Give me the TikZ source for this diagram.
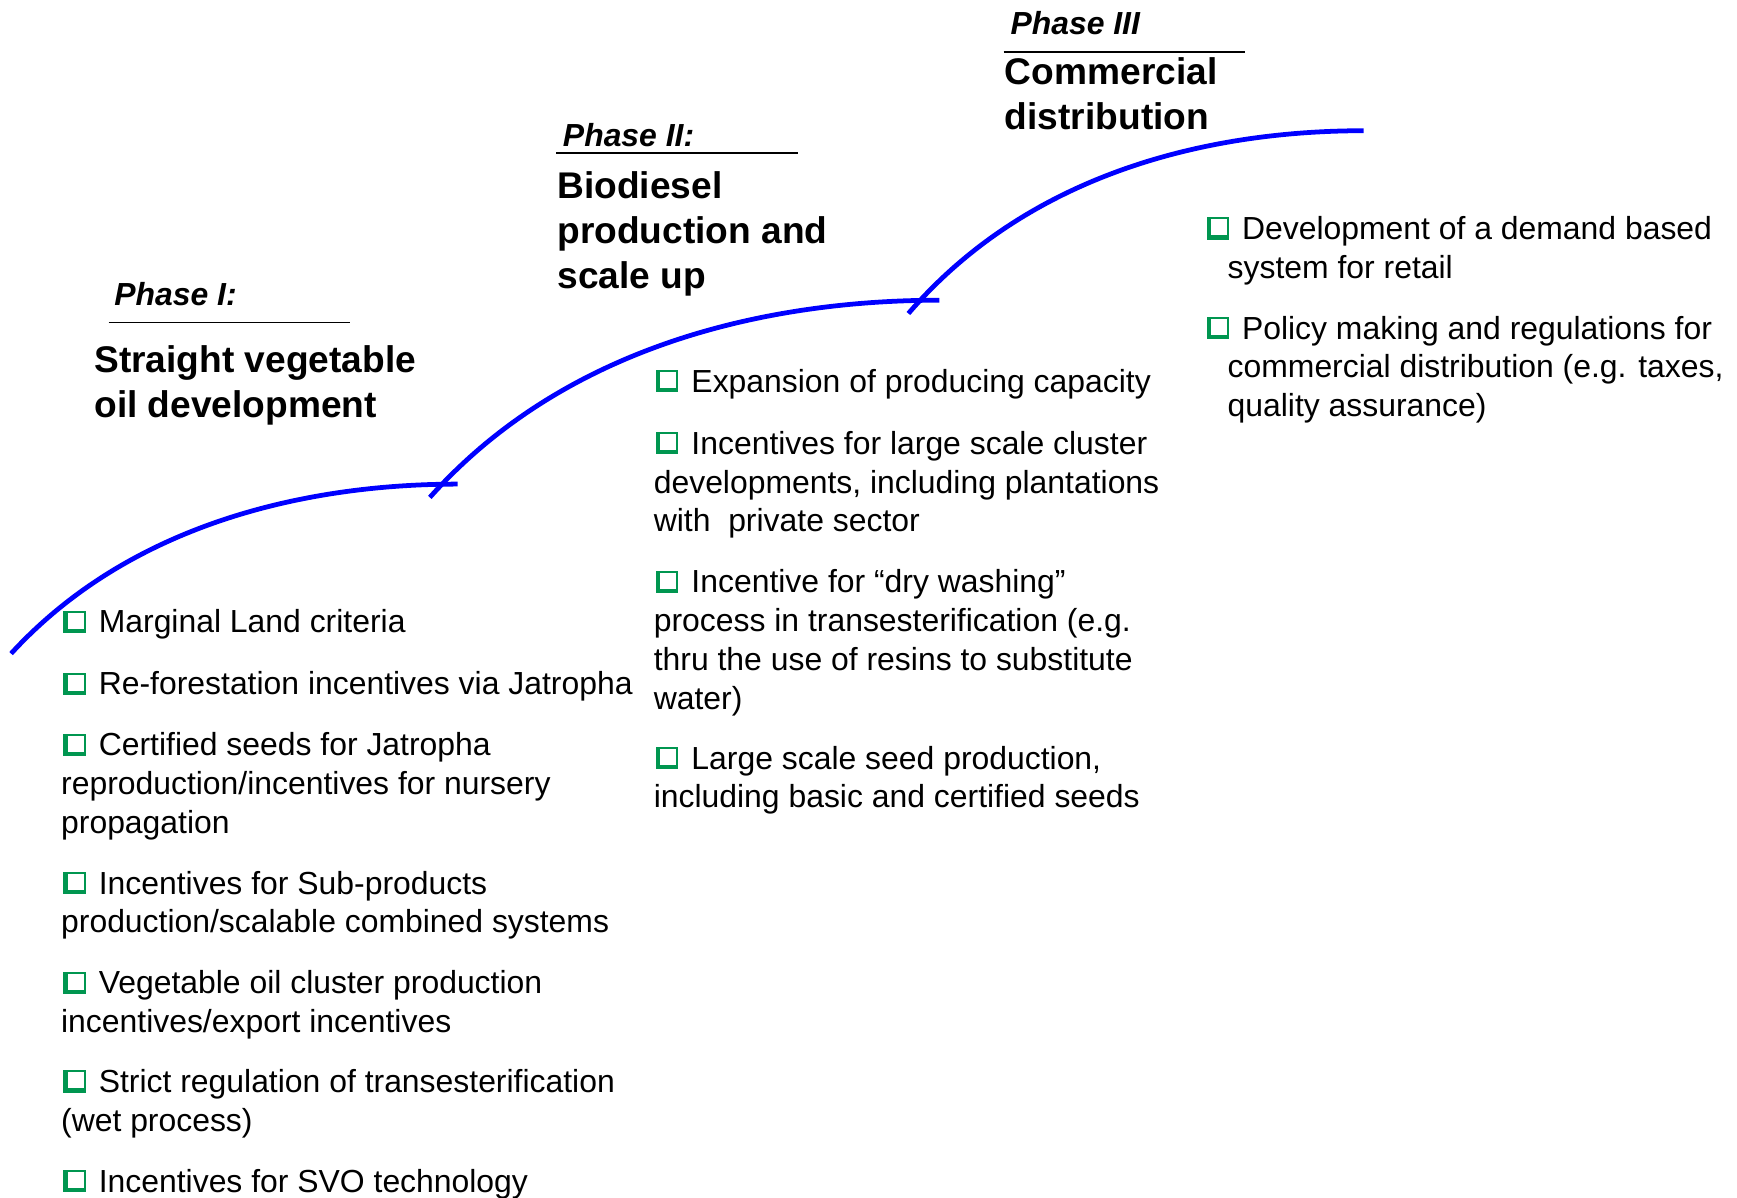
\documentclass[tikz,border=0pt]{standalone}
\usepackage{fontspec}
\setmainfont{Liberation Sans}
\definecolor{boxgreen}{RGB}{0,150,80}
\definecolor{stageblue}{RGB}{0,0,255}
\newcommand{\qbox}{\tikz[baseline=0pt,x=1pt,y=1pt]{\fill[boxgreen] (0,0) rectangle (20,20); \fill[white] (3.8,3.8) rectangle (18.2,18.2);}\hspace{12pt}}
\begin{document}
\begin{tikzpicture}[x=1pt,y=-1pt]

      \useasboundingbox (0,0) rectangle (1568,1081);

      % stage curves
      \begin{scope}[every path/.style={draw=stageblue,line width=4.3pt}]
        \path (10,590) .. controls (119,471) and (280,437) .. (413,437);
        \path (388,449) .. controls (512,310) and (696,271) .. (848,271);
        \path (820,283) .. controls (931,154) and (1095,118) .. (1231,118);
      \end{scope}

      % phase labels
      \begin{scope}[every node/.style={anchor=base west,inner sep=0pt,font=\fontsize{28.8}{34}\selectfont\bfseries\itshape}]
        \node (ph1) at (103,276) {Phase I:};
        \node (ph2) at (508,132) {Phase II:};
        \node (ph3) at (912,31)  {Phase III};
      \end{scope}

      \begin{scope}[line width=1.5pt]
        \draw (98,291)  -- (316,291);
        \draw (502,138) -- (720,138);
        \draw (906,47)  -- (1124,47);
      \end{scope}

      % phase titles
      \begin{scope}[every node/.style={anchor=north west,inner sep=0pt,align=left,font=\fontsize{33.5}{40.5}\selectfont\bfseries}]
        \node (tt1) at (85,308)    {\strut Straight vegetable\\oil development};
        \node (tt2) at (503,151)   {\strut Biodiesel\\production and\\scale up};
        \node (tt3) at (907,47.6)  {\strut Commercial\\distribution};
      \end{scope}

      % measures
      \begin{scope}[every node/.style={anchor=north west,inner sep=0pt,align=left,font=\fontsize{28.8}{35}\selectfont}]
        \node (a1) at (55,546.5)  {\strut\hspace*{2pt}\qbox Marginal Land criteria};
        \node (a2) at (55,602.5)  {\strut\hspace*{2pt}\qbox Re-forestation incentives via Jatropha};
        \node (a3) at (55,657.5)  {\strut\hspace*{2pt}\qbox Certified seeds for Jatropha\\reproduction/incentives for nursery\\propagation};
        \node (a4) at (55,782.5)  {\strut\hspace*{2pt}\qbox Incentives for Sub-products\\production/scalable combined systems};
        \node (a5) at (55,872.5)  {\strut\hspace*{2pt}\qbox Vegetable oil cluster production\\incentives/export incentives};
        \node (a6) at (55,961.5)  {\strut\hspace*{2pt}\qbox Strict regulation of transesterification\\(wet process)};
        \node (a7) at (55,1051.5) {\strut\hspace*{2pt}\qbox Incentives for SVO technology};

        \node (b1) at (590,329.5) {\strut\hspace*{2pt}\qbox Expansion of producing capacity};
        \node (b2) at (590,385.5) {\strut\hspace*{2pt}\qbox Incentives for large scale cluster\\developments, including plantations\\with\ \ private sector};
        \node (b3) at (590,510.5) {\strut\hspace*{2pt}\qbox Incentive for “dry washing”\\process in transesterification (e.g.\\thru the use of resins to substitute\\water)};
        \node (b4) at (590,669.5) {\strut\hspace*{2pt}\qbox Large scale seed production,\\including basic and certified seeds};

        \node (c1) at (1089,191.5) {\strut\qbox Development of a demand based\\\hspace*{19pt}system for retail};
        \node (c2) at (1089,281.5) {\strut\qbox Policy making and regulations for\\\hspace*{19pt}commercial distribution (e.g. taxes,\\\hspace*{19pt}quality assurance)};
      \end{scope}

    \end{tikzpicture}
\end{document}
